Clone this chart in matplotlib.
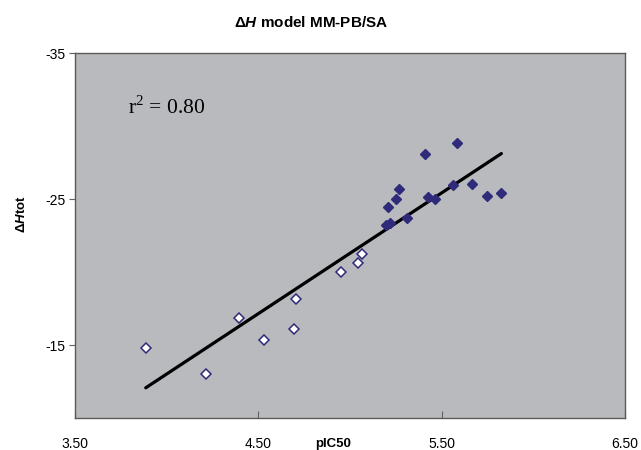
import numpy as np
import matplotlib.pyplot as plt

# open diamonds (training-like set)
x_open = [3.886, 4.216, 4.396, 4.529, 4.697, 4.706, 4.952, 5.045, 5.067]
y_open = [-14.82, -12.99, -16.85, -15.36, -16.10, -18.15, -20.02, -20.62, -21.21]

# filled diamonds
x_fill = [5.407, 5.586, 5.267, 5.250, 5.207, 5.194, 5.216, 5.309, 5.425, 5.466,
          5.560, 5.664, 5.746, 5.826]
y_fill = [-28.06, -28.82, -25.68, -25.02, -24.47, -23.22, -23.36, -23.72, -25.16, -25.02,
          -25.96, -26.03, -25.18, -25.43]

x_ticks = [3.5, 4.5, 5.5, 6.5]
x_ticklabels = ["3.50", "4.50", "5.50", "6.50"]
y_ticks = [-35, -25, -15]

plt.rcParams["font.family"] = ["Liberation Sans", "DejaVu Sans"]
plt.rcParams["axes.unicode_minus"] = False
plt.rcParams["mathtext.fontset"] = "custom"
plt.rcParams["mathtext.it"] = "Liberation Sans:italic:bold"
plt.rcParams["mathtext.rm"] = "Liberation Serif"

fig = plt.figure(figsize=(6.41, 4.50), dpi=100)
ax = fig.add_axes([0.117, 0.071, 0.858, 0.811])
ax.set_facecolor("#b8babd")

# trendline over all points
x_all = np.array(x_open + x_fill)
y_all = np.array(y_open + y_fill)
slope, icpt = np.polyfit(x_all, y_all, 1)
xl = np.array([x_all.min(), x_all.max()])
ax.plot(xl, slope * xl + icpt, color="black", lw=2.3, solid_capstyle="round", zorder=2)

ax.plot(x_fill, y_fill, linestyle="none", marker="D", ms=5.2, color="#2f2a7a",
        markeredgecolor="#2f2a7a", zorder=3)
ax.plot(x_open, y_open, linestyle="none", marker="D", ms=5.0, markerfacecolor="white",
        markeredgecolor="#2f2a7a", markeredgewidth=1.1, zorder=3)

ax.set_xlim(3.5, 6.5)
ax.set_ylim(-10, -35)
ax.set_xticks(x_ticks)
ax.set_xticklabels(x_ticklabels)
ax.set_yticks(y_ticks)
ax.tick_params(axis="x", direction="in", length=5, pad=14, labelsize=10, color="#606060")
ax.tick_params(axis="y", direction="out", length=4, pad=3, labelsize=10, color="#606060")

for s in ax.spines.values():
    s.set_color("#5a5a5a")
    s.set_linewidth(1.0)

ax.set_title("Δ" + r"$\mathit{H}$" + " model MM-PB/SA", fontsize=11, fontweight="bold",
             x=0.43, pad=19)
ax.set_xlabel("pIC50", fontsize=9.5, fontweight="bold")
ax.xaxis.set_label_coords(0.47, -0.055)
ax.set_ylabel("Δ" + r"$\mathit{H}$" + "tot", fontsize=9.5, fontweight="bold")
ax.yaxis.set_label_coords(-0.085, 0.56)

ax.text(0.097, 0.85, r"r$^{2}$ = 0.80", transform=ax.transAxes, fontsize=15.5,
        family="Liberation Serif", va="center")

fig.savefig("out.png", dpi=100)
